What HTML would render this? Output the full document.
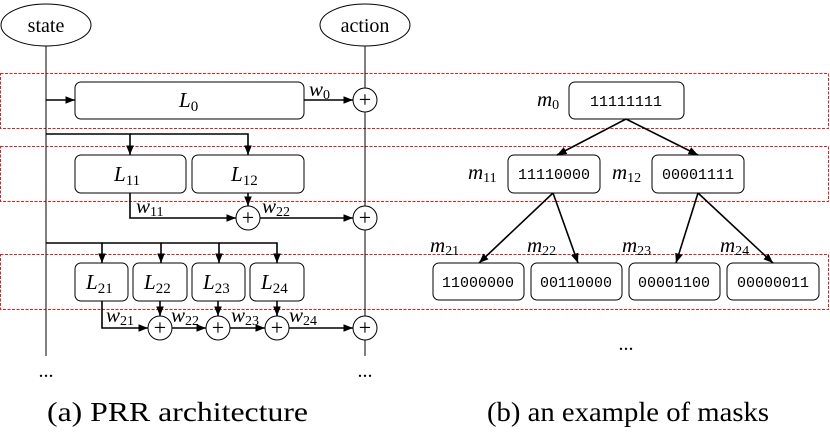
<!DOCTYPE html>
<html><head><meta charset="utf-8"><style>
body{margin:0;background:#fff}
svg text{font-family:"Liberation Serif",serif}
svg text.m{font-family:"Liberation Mono",monospace;font-size:15px}
</style></head><body>
<svg width="830" height="433" viewBox="0 0 830 433" xmlns="http://www.w3.org/2000/svg">
<defs><marker id="a" viewBox="0 0 10 10" refX="10" refY="5" markerWidth="6" markerHeight="6" orient="auto"><path d="M0,1 L10,5 L0,9 z" fill="#000"/></marker></defs>
<g fill="none" stroke="#e02020" stroke-dasharray="3,1.5" stroke-width="1">
<rect x="0.5" y="73.5" width="828" height="55"/>
<rect x="0.5" y="146.5" width="828" height="55"/>
<rect x="0.5" y="254.5" width="828" height="55"/>
</g>
<g stroke="#000" fill="none" stroke-width="1">
<ellipse cx="46" cy="25" rx="45" ry="21"/>
<ellipse cx="365" cy="25" rx="45" ry="21"/>
<line x1="46" y1="46" x2="46" y2="356"/>
<line x1="365" y1="46" x2="365" y2="356"/>
<rect x="75" y="82" width="229" height="37" rx="6"/>
<rect x="75" y="155" width="111" height="38" rx="6"/>
<rect x="192" y="155" width="112" height="38" rx="6"/>
<rect x="75" y="263" width="53" height="38" rx="6"/>
<rect x="133" y="263" width="54" height="38" rx="6"/>
<rect x="192" y="263" width="53" height="38" rx="6"/>
<rect x="250" y="263" width="54" height="38" rx="6"/>
<g fill="#fff">
<circle cx="365" cy="100" r="12"/><circle cx="248" cy="218" r="12"/><circle cx="365" cy="218" r="12"/>
<circle cx="160" cy="328" r="12"/><circle cx="218" cy="328" r="12"/><circle cx="277" cy="328" r="12"/><circle cx="365" cy="328" r="12"/>
</g>
<rect x="569" y="82" width="115" height="37" rx="6"/>
<rect x="508" y="155" width="92" height="38" rx="6"/>
<rect x="652" y="155" width="92" height="38" rx="6"/>
<rect x="433" y="263" width="91" height="37" rx="6"/>
<rect x="531" y="263" width="91" height="37" rx="6"/>
<rect x="629" y="263" width="91" height="37" rx="6"/>
<rect x="727" y="263" width="92" height="37" rx="6"/>
</g>
<g stroke="#000" fill="none" stroke-width="1.6" marker-end="url(#a)">
<line x1="46" y1="100" x2="75" y2="100"/>
<line x1="304" y1="100" x2="353" y2="100"/>
<polyline points="46,134 130,134 130,155"/>
<polyline points="130,134 248,134 248,155"/>
<polyline points="130,193 130,218 236,218"/>
<line x1="248" y1="193" x2="248" y2="206"/>
<line x1="260" y1="218" x2="353" y2="218"/>
<polyline points="46,243 102,243 102,263"/>
<polyline points="102,243 161,243 161,263"/>
<polyline points="161,243 219,243 219,263"/>
<polyline points="219,243 277,243 277,263"/>
<polyline points="102,301 102,328 148,328"/>
<line x1="160" y1="301" x2="160" y2="316"/>
<line x1="218" y1="301" x2="218" y2="316"/>
<line x1="277" y1="301" x2="277" y2="316"/>
<line x1="172" y1="328" x2="206" y2="328"/>
<line x1="230" y1="328" x2="265" y2="328"/>
<line x1="289" y1="328" x2="353" y2="328"/>
<line x1="626" y1="119" x2="557" y2="155"/>
<line x1="626" y1="119" x2="698" y2="155"/>
<line x1="553" y1="193" x2="479" y2="263"/>
<line x1="553" y1="193" x2="578" y2="263"/>
<line x1="698" y1="193" x2="676" y2="263"/>
<line x1="698" y1="193" x2="773" y2="263"/>
</g>
<g font-size="20" text-anchor="middle">
<text x="46" y="32">state</text><text x="365" y="32">action</text>
<g font-size="22"><text x="365" y="107">+</text><text x="248" y="225">+</text><text x="365" y="225">+</text><text x="160" y="335">+</text><text x="218" y="335">+</text><text x="277" y="335">+</text><text x="365" y="335">+</text></g>
<text x="46" y="377">...</text><text x="365" y="377">...</text><text x="626" y="350">...</text>
</g>
<g font-size="21" font-style="italic">
<text x="179" y="107">L<tspan font-size="15" font-style="normal" dy="4">0</tspan></text>
<text x="114" y="181">L<tspan font-size="15" font-style="normal" dy="4">11</tspan></text>
<text x="231" y="181">L<tspan font-size="15" font-style="normal" dy="4">12</tspan></text>
<text x="86" y="289">L<tspan font-size="15" font-style="normal" dy="4">21</tspan></text>
<text x="144" y="289">L<tspan font-size="15" font-style="normal" dy="4">22</tspan></text>
<text x="203" y="289">L<tspan font-size="15" font-style="normal" dy="4">23</tspan></text>
<text x="261" y="289">L<tspan font-size="15" font-style="normal" dy="4">24</tspan></text>
<text x="309" y="96">w<tspan font-size="14" font-style="normal" dy="3">0</tspan></text>
<text x="136" y="213">w<tspan font-size="14" font-style="normal" dy="3">11</tspan></text>
<text x="262" y="213">w<tspan font-size="14" font-style="normal" dy="3">22</tspan></text>
<text x="106" y="322">w<tspan font-size="14" font-style="normal" dy="3">21</tspan></text>
<text x="171" y="322">w<tspan font-size="14" font-style="normal" dy="3">22</tspan></text>
<text x="231" y="322">w<tspan font-size="14" font-style="normal" dy="3">23</tspan></text>
<text x="289" y="322">w<tspan font-size="14" font-style="normal" dy="3">24</tspan></text>
<text x="537" y="106">m<tspan font-size="14" font-style="normal" dy="3">0</tspan></text>
<text x="468" y="179">m<tspan font-size="14" font-style="normal" dy="3">11</tspan></text>
<text x="612" y="179">m<tspan font-size="14" font-style="normal" dy="3">12</tspan></text>
<text x="430" y="252">m<tspan font-size="14" font-style="normal" dy="3">21</tspan></text>
<text x="527" y="252">m<tspan font-size="14" font-style="normal" dy="3">22</tspan></text>
<text x="622" y="252">m<tspan font-size="14" font-style="normal" dy="3">23</tspan></text>
<text x="720" y="252">m<tspan font-size="14" font-style="normal" dy="3">24</tspan></text>
</g>
<g text-anchor="middle">
<text class="m" x="626" y="106">11111111</text>
<text class="m" x="554" y="179">11110000</text>
<text class="m" x="698" y="179">00001111</text>
<text class="m" x="478" y="287">11000000</text>
<text class="m" x="576" y="287">00110000</text>
<text class="m" x="674" y="287">00001100</text>
<text class="m" x="773" y="287">00000011</text>
</g>
<text x="47" y="421" font-size="27" textLength="261" lengthAdjust="spacingAndGlyphs">(a) PRR architecture</text>
<text x="487" y="421" font-size="27" textLength="282" lengthAdjust="spacingAndGlyphs">(b) an example of masks</text>
</svg>
</body></html>
